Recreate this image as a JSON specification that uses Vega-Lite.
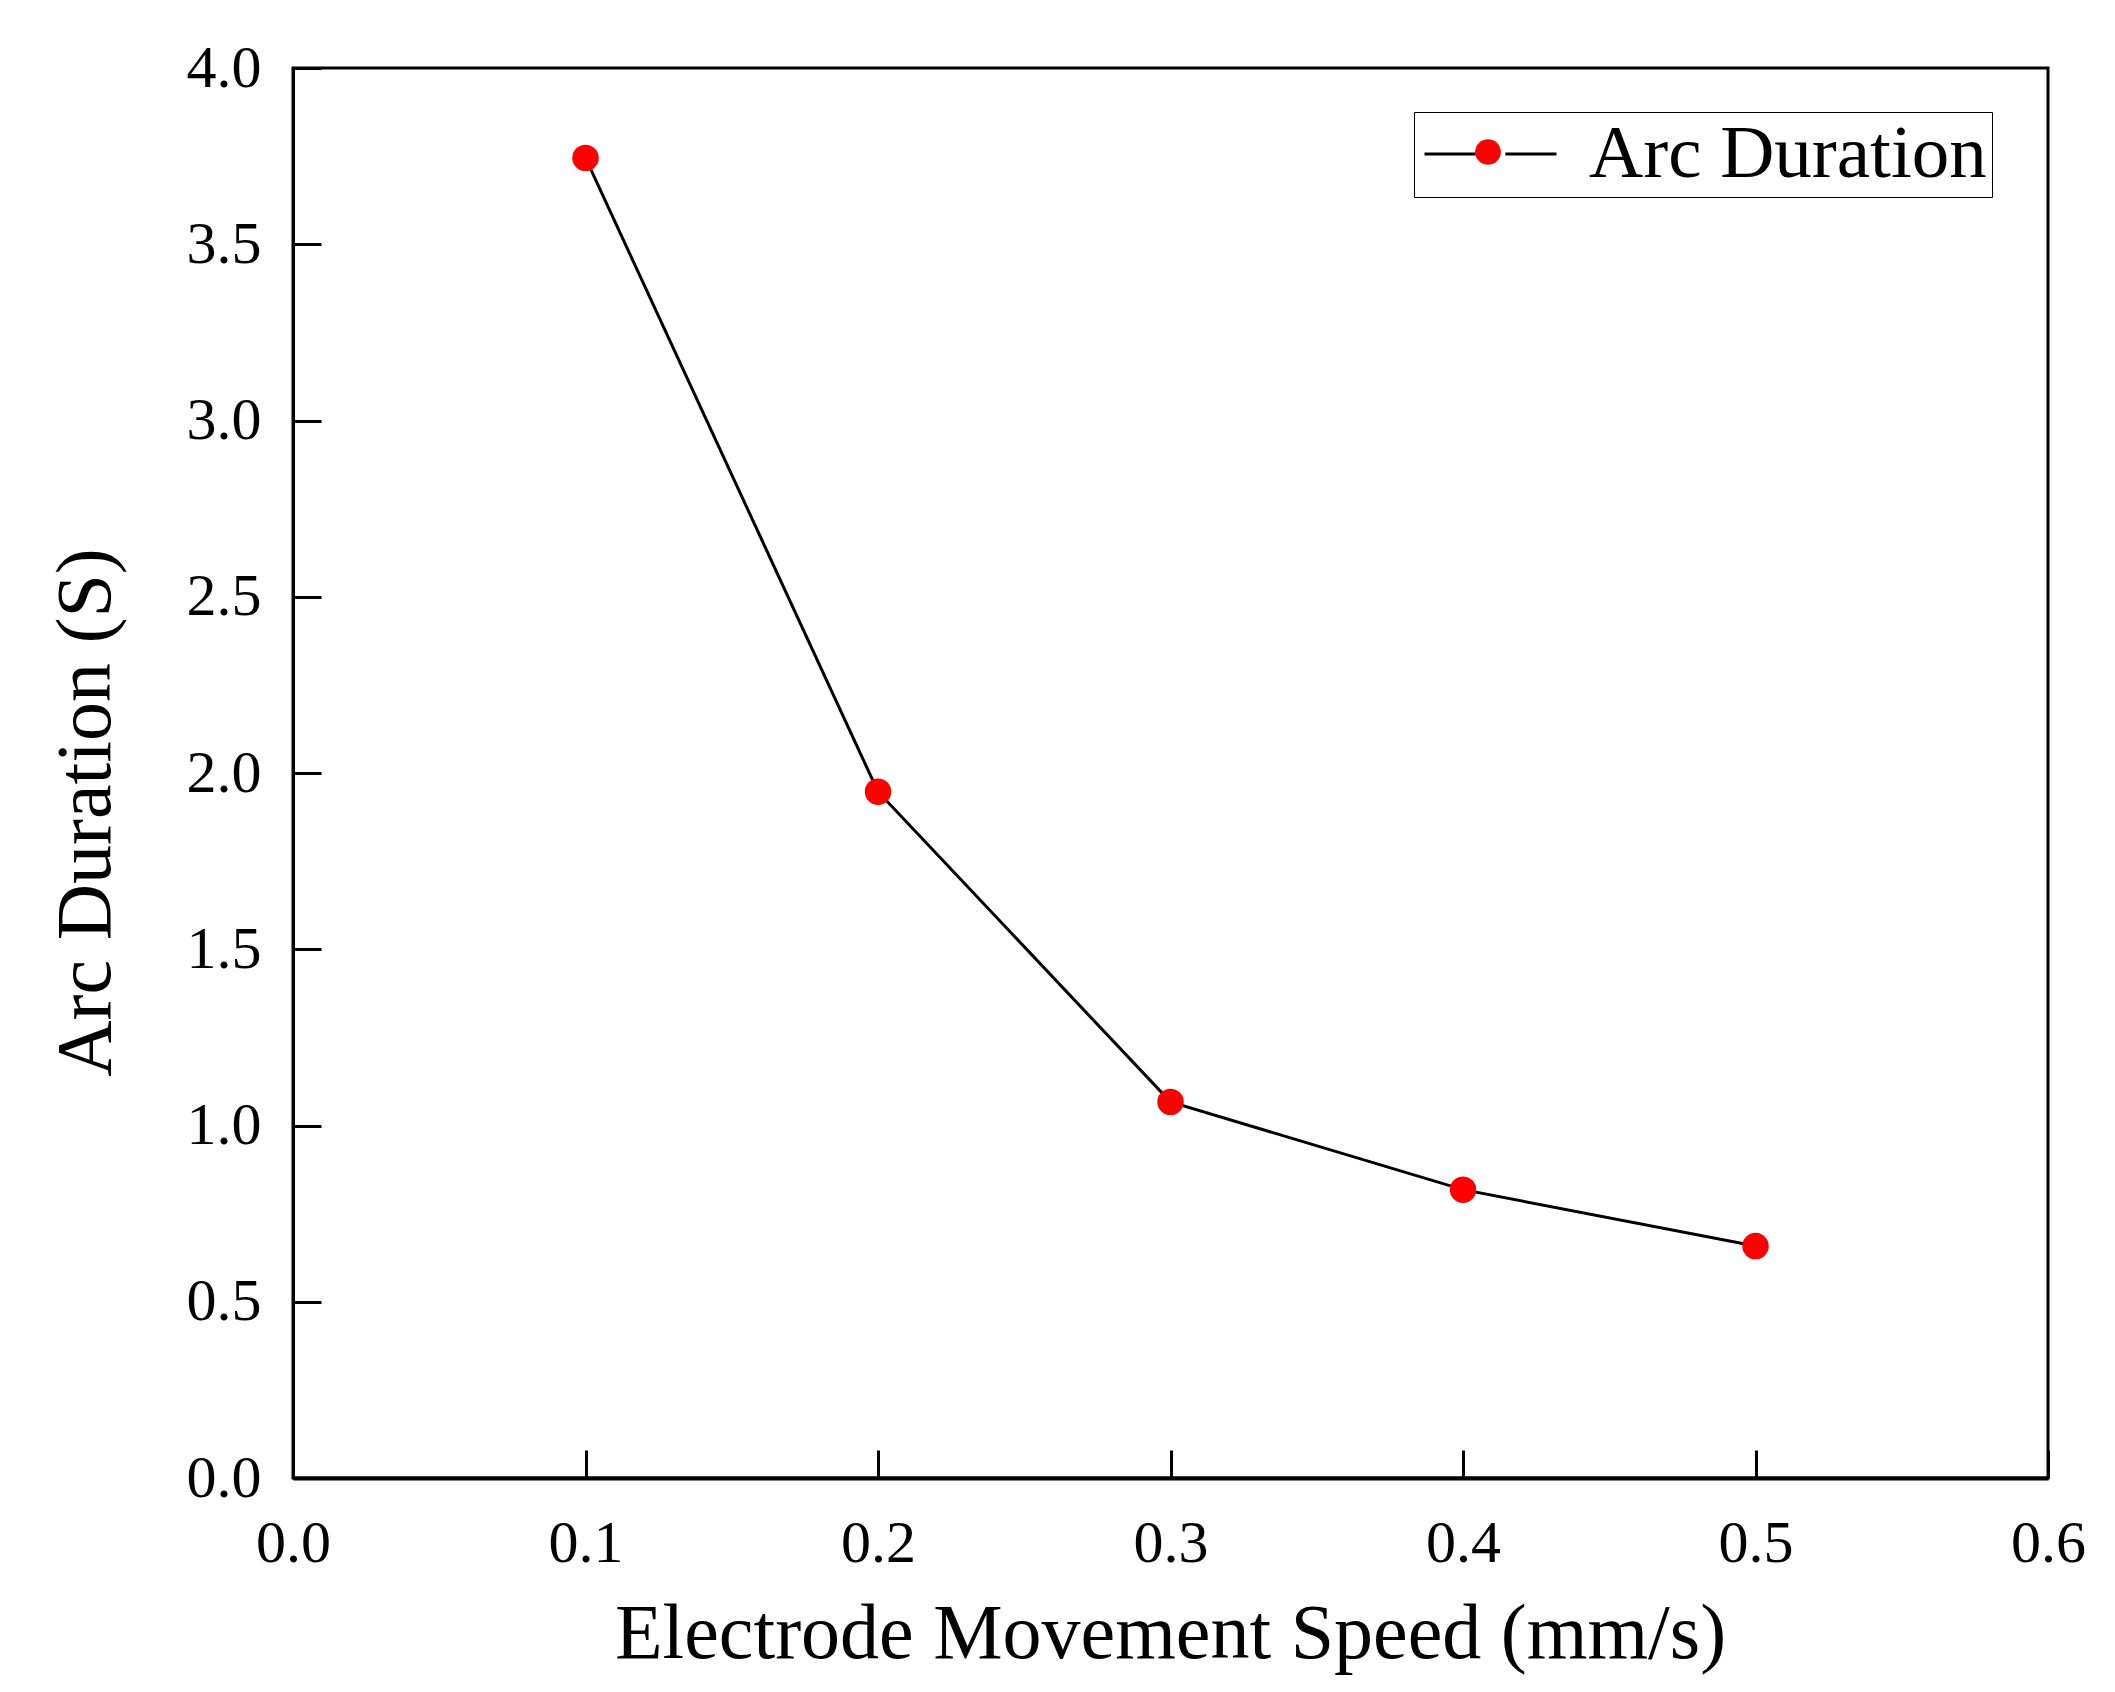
{
  "$schema": "https://vega.github.io/schema/vega-lite/v6.json",
  "width": 1755,
  "height": 1410,
  "autosize": {"type": "none"},
  "padding": {"left": 293, "top": 68, "right": 67, "bottom": 214},
  "background": "white",
  "config": {
    "font": "Liberation Serif",
    "view": {"stroke": "black", "strokeWidth": 3},
    "axis": {
      "domainColor": "black",
      "domainWidth": 3,
      "tickColor": "black",
      "tickWidth": 3,
      "tickSize": -28,
      "grid": false,
      "labelColor": "black",
      "labelFont": "Liberation Serif",
      "labelFontSize": 60,
      "titleColor": "black",
      "titleFont": "Liberation Serif",
      "titleFontSize": 78,
      "titleFontWeight": "normal"
    }
  },
  "data": {
    "values": [
      {"speed": 0.1, "duration": 3.745, "series": "Arc Duration"},
      {"speed": 0.2, "duration": 1.947, "series": "Arc Duration"},
      {"speed": 0.3, "duration": 1.067, "series": "Arc Duration"},
      {"speed": 0.4, "duration": 0.818, "series": "Arc Duration"},
      {"speed": 0.5, "duration": 0.658, "series": "Arc Duration"}
    ]
  },
  "encoding": {
    "x": {
      "field": "speed",
      "type": "quantitative",
      "scale": {"domain": [0, 0.6], "nice": false, "zero": false},
      "axis": {
        "values": [0, 0.1, 0.2, 0.3, 0.4, 0.5, 0.6],
        "format": ".1f",
        "labelPadding": 64,
        "labelFlush": false,
        "title": "Electrode Movement Speed (mm/s)",
        "titleX": 877,
        "titleY": 179,
        "titleAlign": "center",
        "titleBaseline": "alphabetic",
        "domainWidth": 4
      }
    },
    "y": {
      "field": "duration",
      "type": "quantitative",
      "scale": {"domain": [0, 4], "nice": false},
      "axis": {
        "values": [0, 0.5, 1, 1.5, 2, 2.5, 3, 3.5, 4],
        "format": ".1f",
        "labelPadding": 60,
        "labelFlush": false,
        "title": "Arc Duration (S)",
        "titleAngle": -90,
        "titleX": -184,
        "titleY": 744,
        "titleAlign": "center",
        "titleBaseline": "alphabetic"
      }
    }
  },
  "layer": [
    {
      "mark": {"type": "line", "strokeWidth": 3},
      "encoding": {
        "stroke": {
          "field": "series",
          "type": "nominal",
          "scale": {"range": ["black"]},
          "legend": {
            "orient": "none",
            "legendX": 1121,
            "legendY": 44,
            "title": null,
            "padding": 4.5,
            "strokeColor": "black",
            "fillColor": "white",
            "symbolType": "M-4,0H-0.9M0.9,0H4",
            "symbolSize": 1089,
            "symbolStrokeWidth": 3,
            "symbolOffset": 34.5,
            "labelOffset": 61,
            "labelFont": "Liberation Serif",
            "labelFontSize": 75,
            "labelColor": "black",
            "labelLimit": 1000
          }
        }
      }
    },
    {
      "mark": {"type": "point", "filled": true, "shape": "circle", "size": 700, "opacity": 1},
      "encoding": {
        "fill": {
          "field": "series",
          "type": "nominal",
          "scale": {"range": ["#ff0000"]},
          "legend": {
            "orient": "none",
            "legendX": 1182,
            "legendY": 71,
            "title": null,
            "padding": 0,
            "symbolType": "circle",
            "symbolSize": 660,
            "symbolStrokeWidth": 0,
            "symbolOpacity": 1,
            "labelExpr": "''",
            "labelFontSize": 1
          }
        }
      }
    }
  ]
}
